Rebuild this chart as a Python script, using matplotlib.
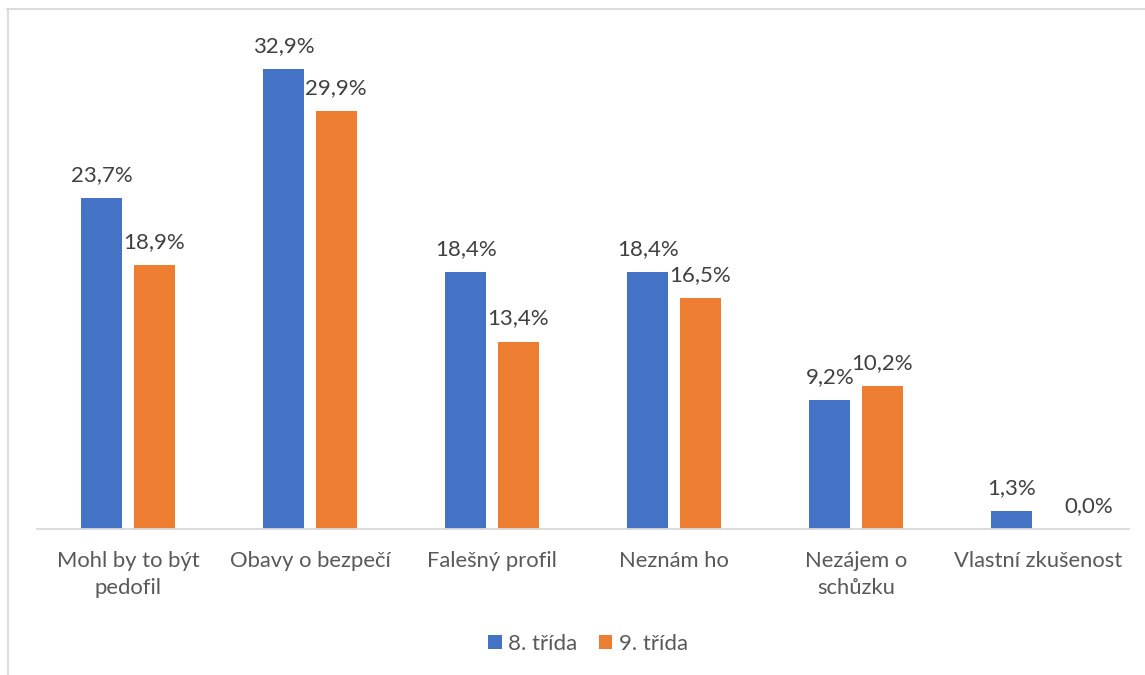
import matplotlib
matplotlib.use("Agg")
import matplotlib.pyplot as plt
from matplotlib.lines import Line2D
import numpy as np

categories = ["Mohl by to být\npedofil", "Obavy o bezpečí", "Falešný profil", "Neznám ho",
              "Nezájem o\nschůzku", "Vlastní zkušenost"]
series_names = ["8. třída", "9. třída"]
values_8 = [23.7, 32.9, 18.4, 18.4, 9.2, 1.3]
values_9 = [18.9, 29.9, 13.4, 16.5, 10.2, 0.0]
colors = ["#4472C4", "#ED7D31"]

plt.rcParams['font.family'] = ['Lato', 'DejaVu Sans']
W, H = 1145, 675
fig = plt.figure(figsize=(W/100, H/100), dpi=100)
ax = fig.add_axes([37/W, 1-529/H, (1129-37)/W, (529-40)/H])

x = np.arange(len(categories))
bw = 0.225
off = 0.143
tick_color = "#595959"
val_color = "#404040"
for vals, sign, c, name in [(values_8, -1, colors[0], series_names[0]), (values_9, 1, colors[1], series_names[1])]:
    bars = ax.bar(x + sign*off, vals, bw, color=c, label=name)
    for b, v in zip(bars, vals):
        dx = 18 if v == 0 else 0  # zero label nudged right to clear neighbour label
        ax.annotate(f"{v:.1f}%".replace(".", ","), (b.get_x()+b.get_width()/2, v),
                    xytext=(dx, 9.5), textcoords="offset points", ha="center", va="bottom",
                    fontsize=16, color=val_color)

ax.set_xlim(-0.5, len(categories)-0.5)
ax.set_ylim(0, 35)
for s in ["top", "right", "left"]:
    ax.spines[s].set_visible(False)
ax.spines["bottom"].set_color("#D9D9D9")
ax.spines["bottom"].set_linewidth(1.3)
ax.set_yticks([])
ax.set_xticks(x)
ax.set_xticklabels(categories, fontsize=15.8, color=tick_color, linespacing=1.42)
ax.tick_params(axis="x", length=0, pad=16)

leg = fig.legend(loc="center", bbox_to_anchor=(588/W, 1-644/H), ncol=2, frameon=False,
                 fontsize=16, handlelength=0.6, handleheight=0.6, handletextpad=0.3,
                 columnspacing=0.95, labelcolor=tick_color)

# outer chart border (only top and left visible)
fig.add_artist(Line2D([7/W, 1.0], [1-9/H, 1-9/H], transform=fig.transFigure, color="#D9D9D9", lw=1.3))
fig.add_artist(Line2D([8/W, 8/W], [0, 1-9/H], transform=fig.transFigure, color="#D9D9D9", lw=1.3))

fig.savefig("out.png", dpi=100)
